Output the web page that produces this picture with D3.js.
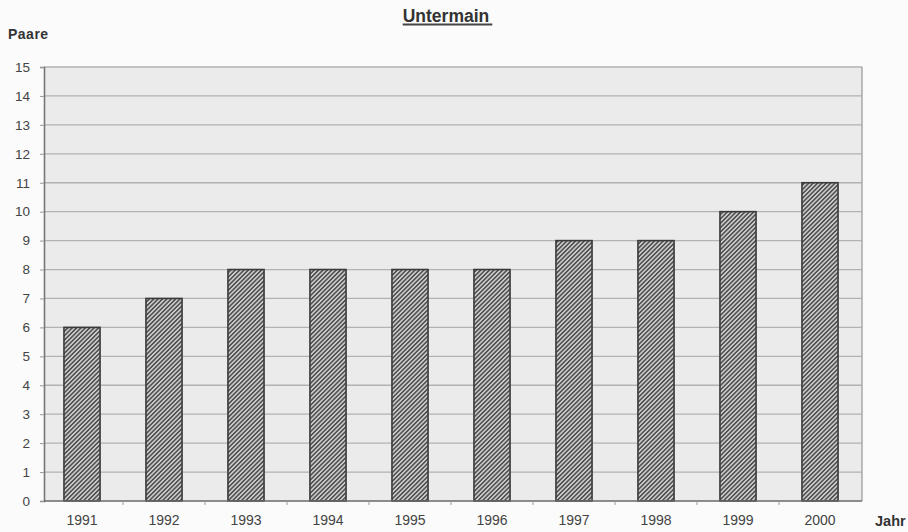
<!DOCTYPE html>
<html>
<head>
<meta charset="utf-8">
<script src="https://cdn.jsdelivr.net/npm/d3@7"></script>
<style>
  html, body { margin: 0; padding: 0; background: #fbfbfb; }
  svg { display: block; font-family: "Liberation Sans", Arial, sans-serif; }
</style>
</head>
<body>
<svg id="chart" width="908" height="532"></svg>
<script>
// Brutpaare am Untermain, 1991–2000
const years = ["1991", "1992", "1993", "1994", "1995", "1996", "1997", "1998", "1999", "2000"];
const pairs = [6, 7, 8, 8, 8, 8, 9, 9, 10, 11];
const yTicks = [0, 1, 2, 3, 4, 5, 6, 7, 8, 9, 10, 11, 12, 13, 14, 15];

const title = "Untermain";
const yLabel = "Paare";
const xLabel = "Jahr";

const svg = d3.select("#chart");
const plot = { left: 44, right: 862, top: 67, bottom: 501 };

const x = d3.scaleBand()
  .domain(years)
  .range([plot.left - 3, plot.right - 1])
  .paddingInner(0.56)
  .paddingOuter(0.28);

const y = d3.scaleLinear()
  .domain([0, 15])
  .range([plot.bottom, plot.top]);

// hatch fill for the bars
const defs = svg.append("defs");
const pat = defs.append("pattern")
  .attr("id", "hatch")
  .attr("patternUnits", "userSpaceOnUse")
  .attr("width", 3.1)
  .attr("height", 3.1)
  .attr("patternTransform", "rotate(45)");
pat.append("rect").attr("width", 3.1).attr("height", 3.1).attr("fill", "#d0d0d0");
pat.append("rect").attr("x", 0).attr("width", 1.6).attr("height", 3.1).attr("fill", "#505050");

// plot background
svg.append("rect")
  .attr("x", plot.left).attr("y", plot.top)
  .attr("width", plot.right - plot.left)
  .attr("height", plot.bottom - plot.top)
  .attr("fill", "#ebebeb");

// horizontal grid lines
svg.append("g")
  .selectAll("line")
  .data(yTicks.filter(d => d > 0))
  .join("line")
  .attr("x1", plot.left).attr("x2", plot.right)
  .attr("y1", d => y(d)).attr("y2", d => y(d))
  .attr("stroke", "#b2b2b2")
  .attr("stroke-width", 1.3);

// right border
svg.append("line")
  .attr("x1", plot.right).attr("x2", plot.right)
  .attr("y1", plot.top).attr("y2", plot.bottom)
  .attr("stroke", "#a8a8a8").attr("stroke-width", 1.5);

// bars
svg.append("g")
  .selectAll("rect")
  .data(years.map((yr, i) => ({ yr, v: pairs[i] })))
  .join("rect")
  .attr("x", d => x(d.yr))
  .attr("y", d => y(d.v))
  .attr("width", x.bandwidth())
  .attr("height", d => y(0) - y(d.v))
  .attr("fill", "url(#hatch)")
  .attr("stroke", "#3a3a3a")
  .attr("stroke-width", 1.6);

// y axis
const yAxis = svg.append("g")
  .attr("transform", `translate(${plot.left},0)`)
  .call(d3.axisLeft(y).tickValues(yTicks).tickSize(4).tickPadding(10).tickFormat(d3.format("d")));
yAxis.select(".domain").attr("stroke", "#777").attr("stroke-width", 1.6);
yAxis.selectAll(".tick line").attr("stroke", "#999");
yAxis.selectAll(".tick text")
  .attr("fill", "#444")
  .style("font-size", "13.5px");

// x axis with category boundary ticks
const xAxis = svg.append("g")
  .attr("transform", `translate(0,${plot.bottom})`)
  .call(d3.axisBottom(x).tickSize(0).tickPadding(14));
xAxis.select(".domain").remove();
xAxis.append("line")
  .attr("x1", plot.left).attr("x2", plot.right)
  .attr("stroke", "#6a6a6a").attr("stroke-width", 1.6);
xAxis.selectAll(".tick text")
  .attr("fill", "#444")
  .style("font-size", "14px");
xAxis.selectAll(".boundary")
  .data(years.slice(1))
  .join("line")
  .attr("class", "boundary")
  .attr("x1", d => x(d) - x.step() * x.paddingInner() / 2)
  .attr("x2", d => x(d) - x.step() * x.paddingInner() / 2)
  .attr("y1", 0).attr("y2", 4)
  .attr("stroke", "#999");

// title
const t = svg.append("text")
  .attr("x", 446).attr("y", 21.5)
  .attr("text-anchor", "middle")
  .attr("fill", "#333")
  .style("font-size", "17.5px")
  .style("font-weight", "bold")
  .text(title);
const bb = t.node().getBBox();
svg.append("line")
  .attr("x1", bb.x).attr("x2", bb.x + bb.width + 3)
  .attr("y1", 24.5).attr("y2", 24.5)
  .attr("stroke", "#444").attr("stroke-width", 2);

// axis titles
svg.append("text")
  .attr("x", 8).attr("y", 39)
  .attr("fill", "#333")
  .style("font-size", "14px")
  .style("font-weight", "bold")
  .style("letter-spacing", "0.5px")
  .text(yLabel);

svg.append("text")
  .attr("x", 875).attr("y", 526)
  .attr("fill", "#333")
  .style("font-size", "14.5px")
  .style("font-weight", "bold")
  .text(xLabel);
</script>
</body>
</html>
